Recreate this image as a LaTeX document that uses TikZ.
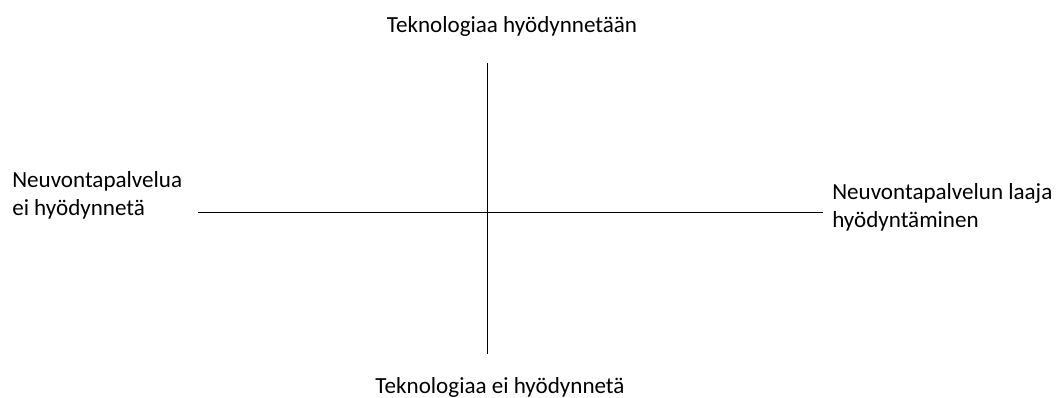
\documentclass[tikz,border=0pt]{standalone}
\usepackage{fontspec}
\setmainfont{Carlito}
\usepackage{tikz}
\usetikzlibrary{positioning}

\begin{document}
\begin{tikzpicture}[
  x=0.75pt,y=-0.75pt,
  lbl/.style={inner sep=0pt,align=left,font=\fontsize{17.3}{21}\selectfont},
  axis/.style={draw,line width=0.75pt}
]
\useasboundingbox (0,0) rectangle (1064,397);

\coordinate (top)    at (487,63);
\coordinate (bottom) at (487,354);
\coordinate (left)   at (198,212);
\coordinate (right)  at (823,212);

\node[lbl,anchor=base]      (techyes) at (512,32)  {Teknologiaa hyödynnetään};
\node[lbl,anchor=base]      (techno)  at (500,393) {Teknologiaa ei hyödynnetä};
% base of a two-line node sits on its last line
\node[lbl,anchor=base west] (advno)   at (12,215)  {Neuvontapalvelua\\ei hyödynnetä};
\node[lbl,anchor=base west] (advyes)  at (832,227) {Neuvontapalvelun laaja\\hyödyntäminen};

\draw[axis] (top) -- (bottom);
\draw[axis] (left) -- (right);
\end{tikzpicture}
\end{document}
